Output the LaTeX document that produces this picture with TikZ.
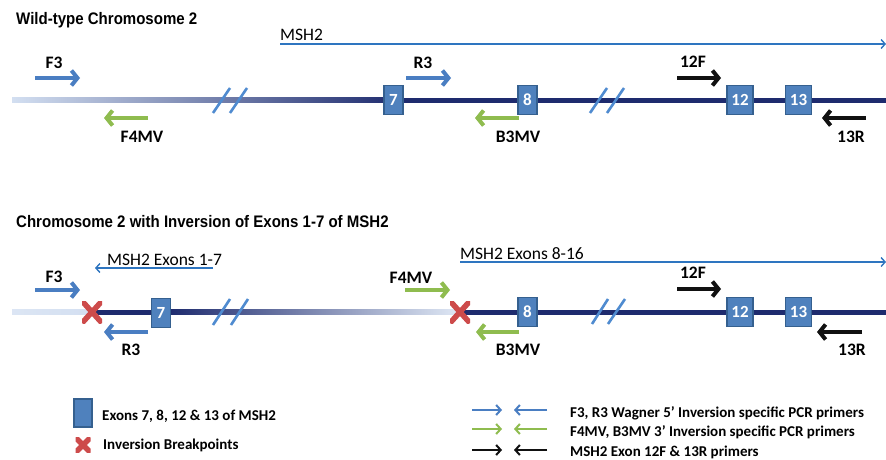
\documentclass[tikz,border=0pt]{standalone}
\usepackage{fontspec}
\setmainfont{Carlito}
\newfontfamily\titlefont[FakeStretch=0.9]{Liberation Sans}
\usetikzlibrary{arrows.meta}
\definecolor{pblue}{HTML}{4A7EC2}
\definecolor{pgreen}{HTML}{8FBC4F}
\definecolor{pblack}{HTML}{111111}
\definecolor{xred}{HTML}{CD4B4B}
\definecolor{exfill}{HTML}{4F81BD}
\definecolor{exdraw}{HTML}{35608F}
\definecolor{navy}{HTML}{1E2B6E}
\definecolor{midnavy}{HTML}{5A72AE}
\definecolor{chrlight}{HTML}{D3DFF1}
\definecolor{msh}{HTML}{2E75C0}
\definecolor{brkcol}{HTML}{4F8BD0}
\tikzset{
  primer/.style={line width=4, -{Straight Barb[length=6pt,width=15pt]}},
  legarrow/.style={line width=2, -{Straight Barb[length=4.5pt,width=10pt]}},
  mshline/.style={msh, line width=1.4, -{Straight Barb[length=4pt,width=9pt]}},
  brkmark/.style={brkcol, line width=2.6},
  lbl/.style={font=\fontsize{17.5}{20}\selectfont\bfseries, inner sep=0, anchor=base},
  msht/.style={font=\fontsize{17.5}{20}\selectfont, inner sep=0, anchor=base west},
  ttl/.style={font=\titlefont\fontsize{16.7}{19}\selectfont\bfseries, inner sep=0, anchor=base west},
  legt/.style={font=\fontsize{15}{18}\selectfont\bfseries, inner sep=0, anchor=base west},
  exon/.style={draw=exdraw, fill=exfill, line width=1.2, minimum height=29, inner sep=0,
    text=white, font=\fontsize{17}{18}\selectfont\bfseries},
  xmark/.style={minimum width=20, minimum height=22, inner sep=0,
    path picture={\draw[xred, line width=5.5]
      (path picture bounding box.south west) -- (path picture bounding box.north east)
      (path picture bounding box.north west) -- (path picture bounding box.south east);}}
}
\begin{document}
\begin{tikzpicture}[x=1pt,y=-1pt]
\useasboundingbox (0,0) rectangle (886,460);
\fill[white] (0,0) rectangle (886,460);

% ---------- Titles ----------
\node[ttl] (t1) at (16,25) {Wild-type Chromosome 2};
\node[ttl] (t2) at (16,227) {Chromosome 2 with Inversion of Exons 1-7 of MSH2};

% ---------- Row 1 chromosome ----------
\shade[left color=chrlight, middle color=midnavy, right color=navy] (12,97.5) rectangle (400,102.5);
\fill[navy] (399.5,97.5) rectangle (886,102.5);
\draw[brkmark] (213,113) -- (230,88) (230,113) -- (247,88);
\draw[brkmark] (590,113) -- (607,88) (607,113) -- (624,88);

\node[exon, minimum width=19] (e7a) at (393.5,100) {7};
\node[exon, minimum width=19] (e8a) at (527.5,100) {8};
\node[exon, minimum width=26] (e12a) at (740,100) {12};
\node[exon, minimum width=26] (e13a) at (798.5,100) {13};

% MSH2 gene
\node[msht] (msha) at (280,41) {MSH2};
\coordinate (msha-s) at (280,44);
\coordinate (msha-e) at (886,44);
\draw[mshline] (msha-s) -- (msha-e);

% primers row 1
\coordinate (f3a-s) at (35,78);  \coordinate (f3a-e) at (80,78);
\coordinate (r3a-s) at (406,78); \coordinate (r3a-e) at (451,78);
\coordinate (f12a-s) at (677,78); \coordinate (f12a-e) at (721,78);
\coordinate (f4a-s) at (148,118); \coordinate (f4a-e) at (104,118);
\coordinate (b3a-s) at (519,118); \coordinate (b3a-e) at (475,118);
\coordinate (r13a-s) at (866,118); \coordinate (r13a-e) at (822,118);
\draw[primer, pblue] (f3a-s) -- (f3a-e);
\draw[primer, pblue] (r3a-s) -- (r3a-e);
\draw[primer, pblack] (f12a-s) -- (f12a-e);
\draw[primer, pgreen] (f4a-s) -- (f4a-e);
\draw[primer, pgreen] (b3a-s) -- (b3a-e);
\draw[primer, pblack] (r13a-s) -- (r13a-e);

\node[lbl] (lf3a) at (54,68) {F3};
\node[lbl] (lr3a) at (423,68) {R3};
\node[lbl] (l12a) at (693,67) {12F};
\node[lbl] (lf4a) at (142,142) {F4MV};
\node[lbl] (lb3a) at (518,142) {B3MV};
\node[lbl] (l13a) at (851,142) {13R};

% ---------- Row 2 chromosome ----------
\shade[left color=chrlight!80, right color=chrlight] (12,309.5) rectangle (92,314.5);
\fill[navy] (92,309.5) rectangle (170,314.5);
\shade[left color=navy, middle color=midnavy, right color=chrlight!70] (169.5,309.5) rectangle (460,314.5);
\fill[navy] (460,309.5) rectangle (886,314.5);
\draw[brkmark] (213,325) -- (230,299) (231,325) -- (248,299);
\draw[brkmark] (592,324) -- (608,299) (608,324) -- (625,299);

\node[xmark] (x1) at (92,312) {};
\node[xmark] (x2) at (460,312) {};

\node[exon, minimum width=19] (e7b) at (161,313) {7};
\node[exon, minimum width=19] (e8b) at (527.5,312) {8};
\node[exon, minimum width=26] (e12b) at (740,312) {12};
\node[exon, minimum width=26] (e13b) at (798.5,312) {13};

% MSH2 pieces
\node[msht] (msh17) at (107,265) {MSH2 Exons 1-7};
\coordinate (msh17-s) at (213,268);
\coordinate (msh17-e) at (95,268);
\draw[mshline] (msh17-s) -- (msh17-e);
\node[msht] (msh816) at (460,259) {MSH2 Exons 8-16};
\coordinate (msh816-s) at (460,262);
\coordinate (msh816-e) at (886,262);
\draw[mshline] (msh816-s) -- (msh816-e);

% primers row 2
\coordinate (f3b-s) at (35,290);  \coordinate (f3b-e) at (80,290);
\coordinate (f4b-s) at (405,290); \coordinate (f4b-e) at (450,290);
\coordinate (f12b-s) at (677,289); \coordinate (f12b-e) at (721,289);
\coordinate (r3b-s) at (148,332); \coordinate (r3b-e) at (104,332);
\coordinate (b3b-s) at (519,332); \coordinate (b3b-e) at (476,332);
\coordinate (r13b-s) at (862,332); \coordinate (r13b-e) at (817,332);
\draw[primer, pblue] (f3b-s) -- (f3b-e);
\draw[primer, pgreen] (f4b-s) -- (f4b-e);
\draw[primer, pblack] (f12b-s) -- (f12b-e);
\draw[primer, pblue] (r3b-s) -- (r3b-e);
\draw[primer, pgreen] (b3b-s) -- (b3b-e);
\draw[primer, pblack] (r13b-s) -- (r13b-e);

\node[lbl] (lf3b) at (54,282) {F3};
\node[lbl] (lf4b) at (411,283) {F4MV};
\node[lbl] (l12b) at (693,278) {12F};
\node[lbl] (lr3b) at (131,355) {R3};
\node[lbl] (lb3b) at (518,355) {B3MV};
\node[lbl] (l13b) at (852,355) {13R};

% ---------- Legend ----------
\node[exon, minimum width=18, minimum height=28] (legex) at (83,413) {};
\node[legt] (legext) at (102,420) {Exons 7, 8, 12 \& 13 of MSH2};
\node[xmark, minimum width=15, minimum height=15] (legx) at (83,445) {};
\node[legt] (legxt) at (103,449) {Inversion Breakpoints};

\coordinate (lb1-s) at (472,410); \coordinate (lb1-e) at (502,410);
\coordinate (lb2-s) at (547,410); \coordinate (lb2-e) at (514,410);
\coordinate (lg1-s) at (472,429); \coordinate (lg1-e) at (502,429);
\coordinate (lg2-s) at (547,429); \coordinate (lg2-e) at (514,429);
\coordinate (lk1-s) at (472,450); \coordinate (lk1-e) at (502,450);
\coordinate (lk2-s) at (547,450); \coordinate (lk2-e) at (514,450);
\draw[legarrow, pblue] (lb1-s) -- (lb1-e);
\draw[legarrow, pblue] (lb2-s) -- (lb2-e);
\draw[legarrow, pgreen] (lg1-s) -- (lg1-e);
\draw[legarrow, pgreen] (lg2-s) -- (lg2-e);
\draw[legarrow, pblack] (lk1-s) -- (lk1-e);
\draw[legarrow, pblack] (lk2-s) -- (lk2-e);
\node[legt] (legt1) at (570,417) {F3, R3 Wagner 5’ Inversion specific PCR primers};
\node[legt] (legt2) at (570,436) {F4MV, B3MV 3’ Inversion specific PCR primers};
\node[legt] (legt3) at (570,456) {MSH2 Exon 12F \& 13R primers};
\end{tikzpicture}
\end{document}
